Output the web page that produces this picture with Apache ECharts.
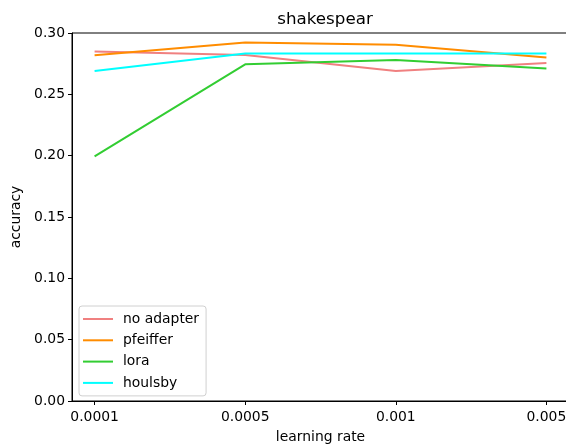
<!DOCTYPE html>
<html><head><meta charset="utf-8">
<script src="https://cdn.jsdelivr.net/npm/echarts@6/dist/echarts.min.js"></script>
<style>html,body{margin:0;padding:0;background:#fff}#c{width:566px;height:445px}</style>
</head><body><div id="c"></div>
<script>
var categories = ['0.0001', '0.0005', '0.001', '0.005'];
var noAdapter = [0.285, 0.282, 0.269, 0.2755];
var pfeiffer = [0.2818, 0.2922, 0.2905, 0.2800];
var lora = [0.1995, 0.2745, 0.2780, 0.2710];
var houlsby = [0.2690, 0.2832, 0.2832, 0.2832];
var yTicks = [0, 0.05, 0.1, 0.15, 0.2, 0.25, 0.3];

var font = 'DejaVu Sans';
function pts(arr){ return arr.map(function(v,i){ return [i, v]; }); }
var idx = categories.map(function(c,i){ return i; });
function mk(name, data, color){
  return {name:name, type:'line', data:pts(data), symbol:'none', lineStyle:{color:color, width:2}, itemStyle:{color:color}, animation:false};
}
var chart = echarts.init(document.getElementById('c'));
chart.setOption({
  backgroundColor:'#fff',
  animation:false,
  title:{text:'shakespear', left:320, textAlign:'center', top:6, textStyle:{fontFamily:font, fontSize:16.7, fontWeight:'normal', color:'#000'}},
  grid:{left:72, top:33, width:497, height:368, show:true, borderColor:'#000', borderWidth:1, containLabel:false, outerBoundsMode:'none'},
  legend:{orient:'vertical', left:79, top:306, itemWidth:30, itemHeight:2, icon:'rect', itemGap:5.3,
    padding:[5,7,5,4], borderColor:'#d0d0d0', borderWidth:1, borderRadius:3, backgroundColor:'rgba(255,255,255,0.8)',
    textStyle:{fontFamily:font, fontSize:13.9, lineHeight:16, color:'#000', padding:[0,0,0,5]},
    data:['no adapter','pfeiffer','lora','houlsby']},
  xAxis:{type:'value', min:-0.15, max:3.15, name:'learning rate', nameLocation:'middle', nameGap:29,
    nameTextStyle:{fontFamily:font, fontSize:13.9, color:'#000'},
    axisLine:{show:true, onZero:false, lineStyle:{color:'#000', width:1}},
    axisTick:{show:true, length:4, customValues:idx, lineStyle:{color:'#000'}},
    axisLabel:{customValues:idx, fontFamily:font, fontSize:13.9, color:'#000', margin:9, formatter:function(v){ return categories[Math.round(v)]; }},
    splitLine:{show:false}},
  yAxis:{type:'value', min:0, max:0.3, interval:0.05, name:'accuracy', nameLocation:'middle', nameGap:41, nameRotate:90,
    nameTextStyle:{fontFamily:font, fontSize:13.9, color:'#000'},
    axisLine:{show:true, onZero:false, lineStyle:{color:'#000', width:1}},
    axisTick:{show:true, length:4, customValues:yTicks, lineStyle:{color:'#000'}},
    axisLabel:{customValues:yTicks, fontFamily:font, fontSize:13.9, color:'#000', margin:7, formatter:function(v){ return v.toFixed(2); }},
    splitLine:{show:false}},
  series:[mk('no adapter', noAdapter, '#f08080'), mk('pfeiffer', pfeiffer, '#ff8c00'), mk('lora', lora, '#32cd32'), mk('houlsby', houlsby, '#00ffff')]
});
</script></body></html>
